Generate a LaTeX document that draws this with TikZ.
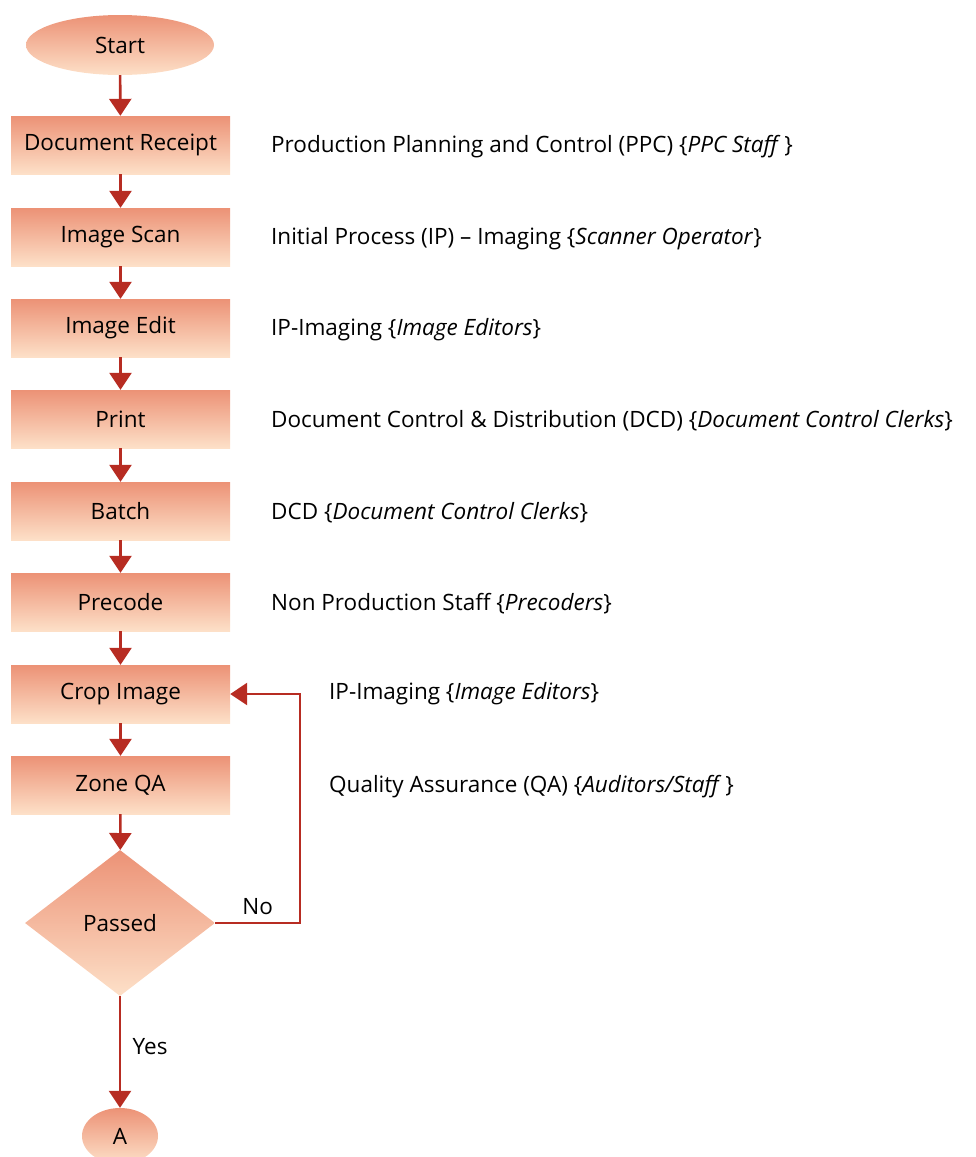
\documentclass[tikz,border=0pt]{standalone}
\usepackage{fontspec}
\setmainfont{Open Sans}
\usetikzlibrary{shapes.geometric,arrows.meta,positioning}

\definecolor{flowtop}{RGB}{236,146,118}
\definecolor{flowbot}{RGB}{253,224,200}
\definecolor{flowred}{RGB}{183,44,34}

\tikzset{
  stepbox/.style={rectangle,minimum width=219pt,minimum height=58pt,inner sep=0pt,
    top color=flowtop,bottom color=flowbot,draw=none},
  termbox/.style={ellipse,minimum width=188pt,minimum height=60pt,inner sep=0pt,
    top color=flowtop,bottom color=flowbot,draw=none},
  decbox/.style={diamond,minimum width=190pt,minimum height=146pt,inner sep=0pt,
    top color=flowtop,bottom color=flowbot,draw=none},
  role/.style={anchor=west,inner sep=0pt},
  flow/.style={draw=flowred,line width=2.6pt,-{Triangle[width=22pt,length=17pt]}}
}

\begin{document}
\begin{tikzpicture}[x=1pt,y=-1pt,font=\fontsize{22.5}{27}\selectfont]
\useasboundingbox (0,0) rectangle (975,1157);
\node[termbox] (start) at (120,45) {Start};
\node[stepbox] (receipt) at (120.5,145) {Document Receipt};
\node[stepbox] (scan) at (120.5,237) {Image Scan};
\node[stepbox] (edit) at (120.5,328) {Image Edit};
\node[stepbox] (print) at (120.5,419) {Print};
\node[stepbox] (batch) at (120.5,511) {Batch};
\node[stepbox] (precode) at (120.5,602) {Precode};
\node[stepbox] (crop) at (120.5,694) {Crop Image};
\node[stepbox] (zone) at (120.5,785) {Zone QA};
\node[decbox] (passed) at (120,923) {Passed};
\node[termbox,minimum width=76pt,minimum height=56pt] (a) at (120,1136) {A};
% roles
\node[role] (rreceipt) at (271,147) {Production Planning and Control (PPC) \{\textit{PPC Staff}\,\}};
\node[role] (rscan) at (271,239) {Initial Process (IP) – Imaging \{\textit{Scanner Operator}\}};
\node[role] (redit) at (271,330) {IP-Imaging \{\textit{Image Editors}\}};
\node[role] (rprint) at (271,421) {Document Control \& Distribution (DCD) \{\textit{Document Control Clerks}\}};
\node[role] (rbatch) at (271,513) {DCD \{\textit{Document Control Clerks}\}};
\node[role] (rprecode) at (271,604) {Non Production Staff \{\textit{Precoders}\}};
\node[role] (rcrop) at (329,694) {IP-Imaging \{\textit{Image Editors}\}};
\node[role] (rzone) at (329,787) {Quality Assurance (QA) \{\textit{Auditors/Staff}\,\}};
% arrows
\draw[flow] (start) -- (receipt);
\draw[flow] (receipt) -- (scan);
\draw[flow] (scan) -- (edit);
\draw[flow] (edit) -- (print);
\draw[flow] (print) -- (batch);
\draw[flow] (batch) -- (precode);
\draw[flow] (precode) -- (crop);
\draw[flow] (crop) -- (zone);
\draw[flow] (zone) -- (passed);
\draw[flow] (passed.east) -- (300,923) node[pos=0.5,above=4pt] {No} -- (300,694) -- (crop.east);
\draw[flow] (passed) -- node[right=8pt,pos=0.45] {Yes} (a);
\end{tikzpicture}
\end{document}
